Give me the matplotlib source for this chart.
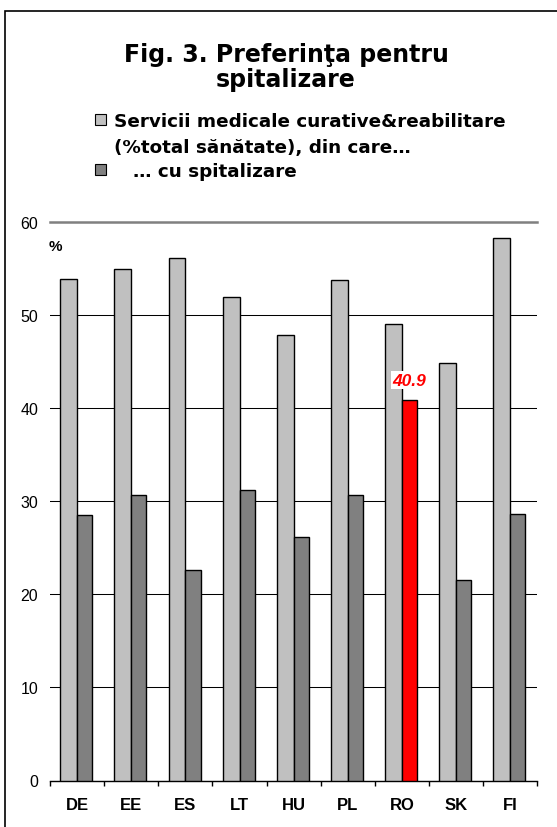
import matplotlib
matplotlib.use("Agg")
import matplotlib.pyplot as plt
from matplotlib.patches import Rectangle

plt.rcParams['font.family'] = ['Liberation Sans', 'DejaVu Sans']

# data
countries = ["DE", "EE", "ES", "LT", "HU", "PL", "RO", "SK", "FI"]
curative = [53.9, 54.9, 56.1, 51.9, 47.8, 53.7, 49.0, 44.8, 58.2]
hospital = [28.5, 30.7, 22.6, 31.2, 26.1, 30.7, 40.9, 21.5, 28.6]
highlight = "RO"

yticks = [0, 10, 20, 30, 40, 50, 60]
title_lines = ["Fig. 3. Preferinţa pentru", "spitalizare"]
legend_1 = ["Servicii medicale curative&reabilitare", "(%total sănătate), din care…"]
legend_2 = "… cu spitalizare"

LIGHT = "#C0C0C0"
DARK = "#808080"
RED = "#FF0000"
HEAD_FONT = ['DejaVu Sans']

W, H = 557, 828
fig = plt.figure(figsize=(W / 100, H / 100), dpi=100)


def fx(px):
    return px / W


def fy(py):
    return 1 - py / H


ax = fig.add_axes([fx(50), fy(781.5), fx(537.3) - fx(50), fy(222.7) - fy(781.5)])

x = list(range(len(countries)))
dark_colors = [RED if c == highlight else DARK for c in countries]

ax.bar([i - 0.155 for i in x], curative, width=0.31, color=LIGHT,
       edgecolor="black", linewidth=1, zorder=3)
bars = ax.bar([i + 0.14 for i in x], hospital, width=0.28, color=dark_colors,
              edgecolor="black", linewidth=1, zorder=3)

# value label above the highlighted bar
k = countries.index(highlight)
b = bars[k]
ax.annotate(f"{hospital[k]:.1f}", (b.get_x() + b.get_width() / 2, hospital[k]),
            xytext=(0, 14), textcoords="offset points", ha="center", va="center",
            fontsize=12.5, fontweight="bold", fontstyle="italic", color=RED,
            bbox=dict(facecolor="white", edgecolor="none", pad=1), zorder=5)

ax.set_xlim(-0.5, len(countries) - 0.5)
ax.set_ylim(0, 60)
ax.set_yticks(yticks)
ax.set_yticklabels([str(v) for v in yticks], fontsize=11.5)
ax.tick_params(axis="y", length=0, pad=8.5)

ax.set_xticks(x)
ax.set_xticklabels(countries, fontsize=12, fontweight="bold")
ax.set_xticks([i - 0.5 for i in range(len(countries) + 1)], minor=True)
ax.tick_params(axis="x", which="major", length=0, pad=12)
ax.tick_params(axis="x", which="minor", length=3.5, width=1, direction="out")

ax.yaxis.grid(True, color="black", linewidth=0.75)
ax.set_axisbelow(True)

for side in ("left", "right"):
    ax.spines[side].set_visible(False)
ax.spines["top"].set_color("#808080")
ax.spines["top"].set_linewidth(1.8)
ax.spines["bottom"].set_linewidth(1)

ax.text(-0.002, 0.9566, "%", transform=ax.transAxes, ha="left", va="center",
        fontsize=11, fontweight="bold")

# title
for line, base in zip(title_lines, [61.7, 87.5]):
    fig.text(fx(286), fy(base), line, ha="center", va="baseline",
             fontsize=17, fontweight="bold", family=HEAD_FONT)

# legend
fig.add_artist(Rectangle((fx(95), fy(125.5)), fx(11), 11 / H, transform=fig.transFigure,
                         facecolor=LIGHT, edgecolor="black", linewidth=0.8))
fig.add_artist(Rectangle((fx(95), fy(176)), fx(11), 11 / H, transform=fig.transFigure,
                         facecolor=DARK, edgecolor="black", linewidth=0.8))
for line, base in zip(legend_1, [126.7, 153.3]):
    fig.text(fx(114), fy(base), line, ha="left", va="baseline",
             fontsize=13.2, fontweight="bold", family=HEAD_FONT)
fig.text(fx(133), fy(176.7), legend_2, ha="left", va="baseline",
         fontsize=13.2, fontweight="bold", family=HEAD_FONT)

# frame around the chart
fig.add_artist(Rectangle((fx(5), -0.05), 1.2, fy(12) + 0.05, transform=fig.transFigure,
                         facecolor="none", edgecolor="black", linewidth=1.2))

fig.savefig("out.png", dpi=100)
